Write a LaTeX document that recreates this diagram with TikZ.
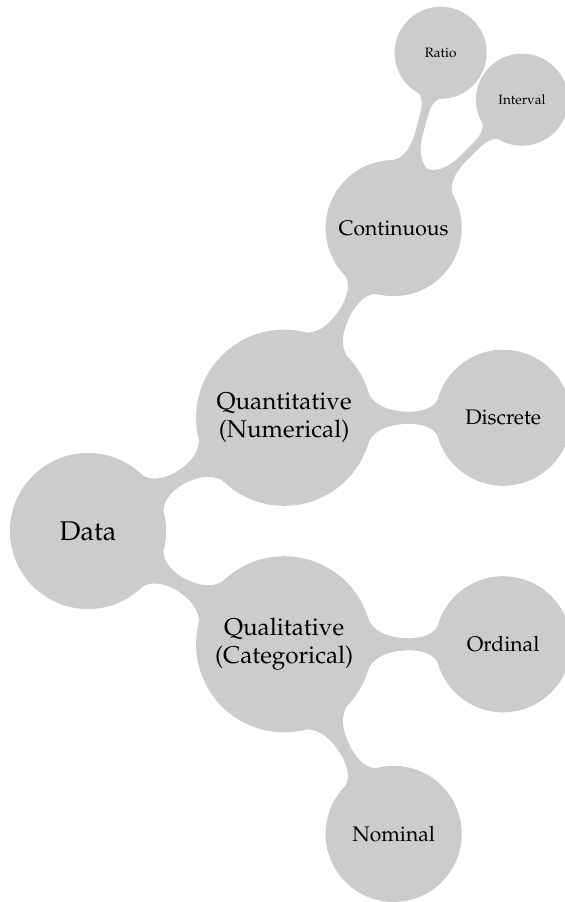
\documentclass[tikz,border=0pt]{standalone}
\usepackage[T1]{fontenc}
\usepackage{mathpazo}
\usepackage{tikz}
\usetikzlibrary{mindmap}
\colorlet{bubble}{black!20}
\tikzset{
	datamap/.style={mindmap, concept color=bubble, text=black,
		every concept/.append style={inner sep=0pt},
		level 1 concept/.append style={minimum size=3.48cm, text width=3.0cm, font=\fontsize{13.8}{16}\selectfont},
		level 2 concept/.append style={minimum size=2.68cm, text width=2.4cm, font=\fontsize{12}{14}\selectfont},
		level 3 concept/.append style={minimum size=1.80cm, text width=1.5cm, font=\fontsize{7.7}{9}\selectfont},
		level 1/.append style={level distance=4.53cm},
		level 2/.append style={level distance=4.38cm},
		level 3/.append style={level distance=3.63cm}
	},
	datanode/.style={concept, minimum size=3.08cm, text width=2.5cm, font=\fontsize{15.4}{18}\selectfont}
}

\begin{document}
\begin{tikzpicture}[datamap]
			%%%%% START %%%%%
			\useasboundingbox (0, 0) rectangle (11.30, -18.04);
			
			\node[datanode] (data) at (1.76, -10.62) {Data}
				child[grow=30] {node[concept] (quant) {Quantitative\\(Numerical)}
					child[grow=60] {node[concept] (cont) {Continuous}
						child[grow=75] {node[concept] (ratio) {Ratio}}
						child[grow=45] {node[concept] (interval) {Interval}}
					}
					child[grow=0] {node[concept] (disc) {Discrete}}
				}
				child[grow=-30] {node[concept] (qual) {Qualitative\\(Categorical)}
					child[grow=0] {node[concept] (ord) {Ordinal}}
					child[grow=-60] {node[concept] (nom) {Nominal}}
				};
			
			%%%%% END %%%%%
\end{tikzpicture}
\end{document}
